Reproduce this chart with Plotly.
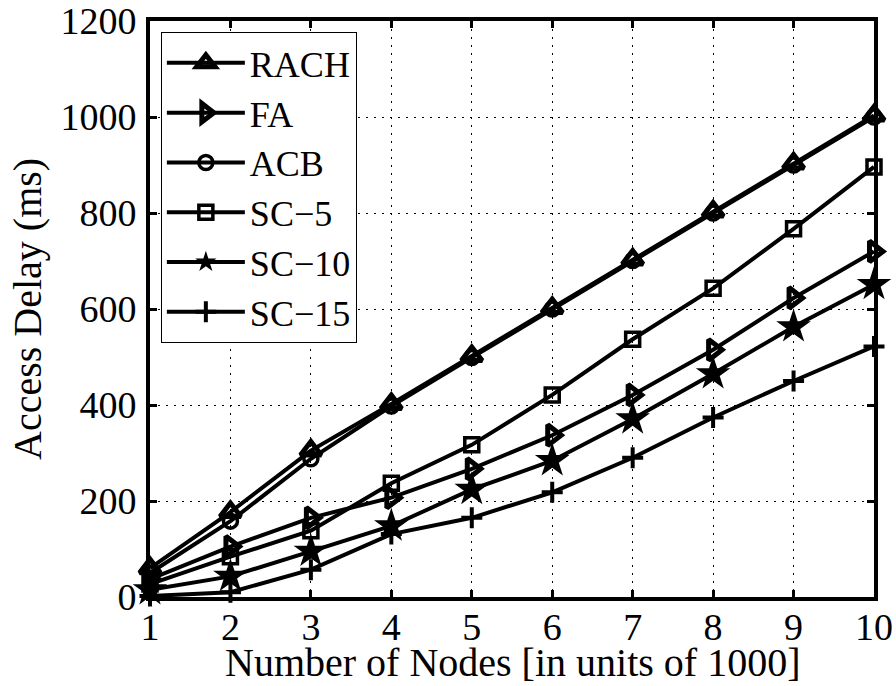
import plotly.graph_objects as go

nodes = [1, 2, 3, 4, 5, 6, 7, 8, 9, 10]
rach = [60, 177, 305, 402, 502, 602, 703, 803, 903, 1003]
fa = [37, 105, 165, 207, 267, 337, 421, 515, 623, 720]
acb = [50, 158, 288, 398, 499, 600, 701, 800, 900, 1000]
sc5 = [27, 84, 138, 237, 317, 421, 537, 643, 767, 896]
sc10 = [15, 43, 95, 148, 224, 284, 371, 465, 563, 651]
sc15 = [2, 10, 57, 131, 165, 218, 290, 374, 450, 522]
yticks = [0, 200, 400, 600, 800, 1000, 1200]

series = [
    ("RACH", rach, dict(symbol="triangle-up-open", size=18, line=dict(width=5))),
    ("FA", fa, dict(symbol="triangle-right-open", size=18, line=dict(width=5))),
    ("ACB", acb, dict(symbol="circle-open", size=14, line=dict(width=3.5))),
    ("SC\u22125", sc5, dict(symbol="square-open", size=14, line=dict(width=3.5))),
    ("SC\u221210", sc10, dict(symbol="star", size=26, line=dict(width=0))),
    ("SC\u221215", sc15, dict(symbol="cross-thin-open", size=15, line=dict(width=4))),
]

fig = go.Figure()
for name, vals, mk in series:
    mk = dict(mk)
    mk["color"] = "black"
    mk["line"] = dict(mk["line"], color="black")
    fig.add_trace(go.Scatter(
        x=nodes, y=vals, name=name, mode="lines+markers",
        line=dict(color="black", width=4),
        marker=mk, cliponaxis=False,
    ))

font = "Liberation Serif"
axis_common = dict(
    showline=True, linecolor="black", linewidth=4, mirror="ticks",
    ticks="inside", ticklen=7, tickwidth=3, tickcolor="black",
    showgrid=True, gridcolor="black", gridwidth=1, griddash="2px,6px",
    zeroline=False, automargin=False,
    tickfont=dict(family=font, size=38, color="black"),
)
fig.update_layout(
    template="none",
    width=896, height=686,
    margin=dict(l=150, r=22, t=21, b=89),
    paper_bgcolor="white", plot_bgcolor="white",
    font=dict(family=font, color="black"),
    xaxis=dict(range=[1, 10], tickvals=nodes, ticklabelstandoff=-7,
               **axis_common),
    yaxis=dict(range=[0, 1200], tickvals=yticks, ticklabelstandoff=2,
               **axis_common),
    annotations=[
        dict(text="Access Delay (ms)", textangle=-90,
             xref="paper", yref="paper", x=-0.17, y=0.5,
             xanchor="center", yanchor="middle", showarrow=False,
             font=dict(family=font, size=40, color="black")),
        dict(text="Number of Nodes [in units of 1000]",
             xref="paper", yref="paper", x=0.5, y=-0.113,
             xanchor="center", yanchor="middle", showarrow=False,
             font=dict(family=font, size=40, color="black")),
    ],
    legend=dict(x=0.015, y=0.981, xanchor="left", yanchor="top",
                bgcolor="white", bordercolor="black", borderwidth=1,
                font=dict(family=font, size=36), itemwidth=78,
                tracegroupgap=0),
    showlegend=True,
)
fig.write_html("out.html", config={"displayModeBar": False},
               post_script="document.body.style.margin='0';document.body.style.overflow='hidden';")
